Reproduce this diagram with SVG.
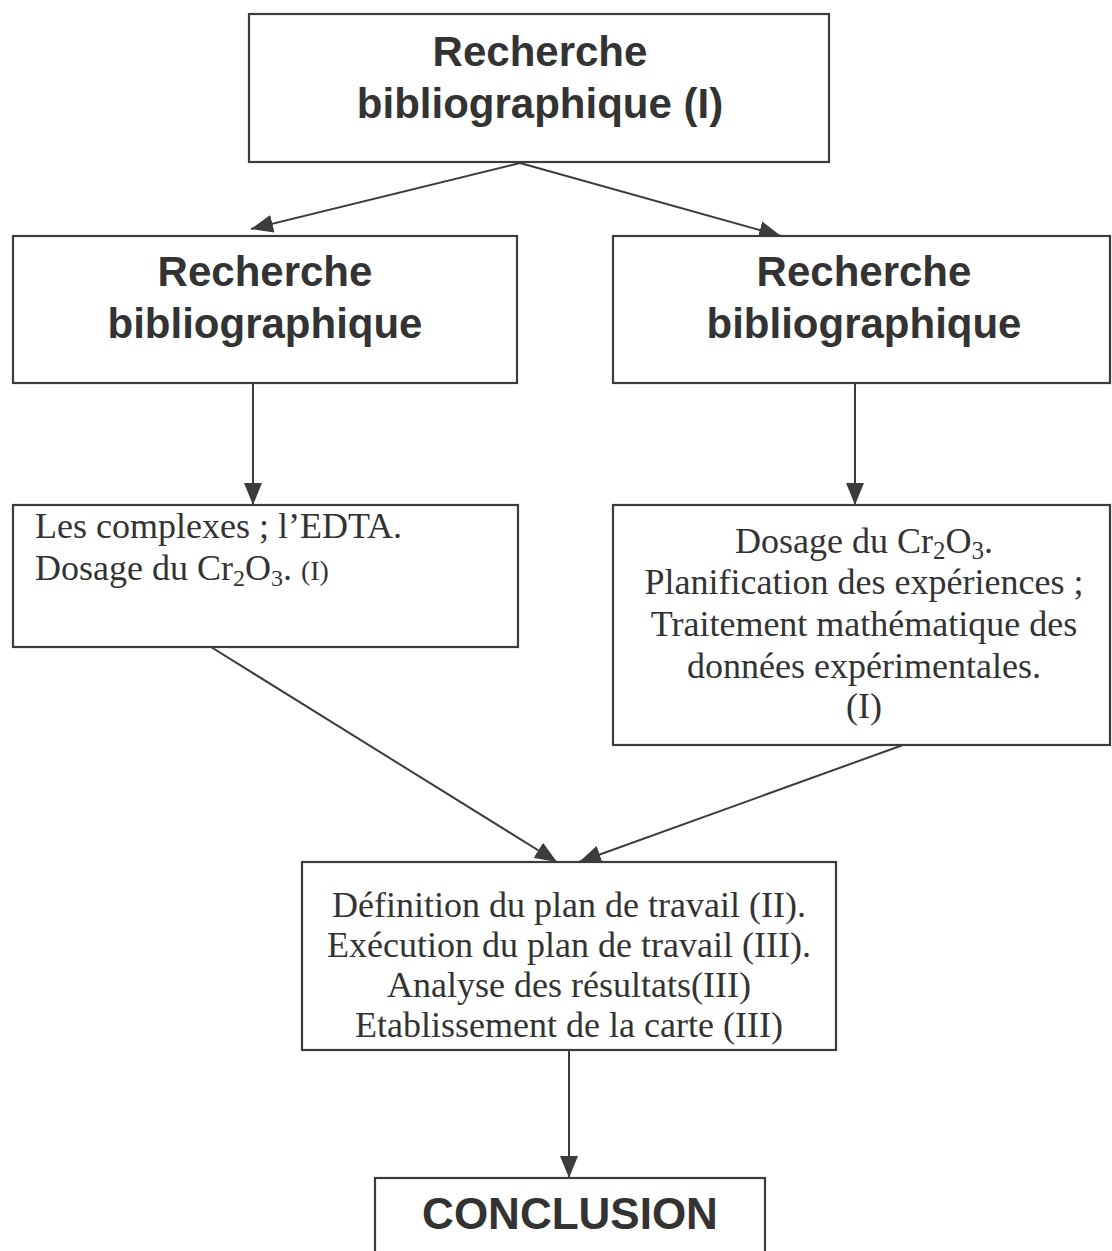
<svg xmlns="http://www.w3.org/2000/svg" width="1112" height="1251" viewBox="0 0 1112 1251">
<style>
.box{fill:#ffffff;stroke:#3c3c3c;stroke-width:2.2}
.h{font-family:"Liberation Sans",Arial,sans-serif;font-weight:bold;fill:#333333;text-anchor:middle}
.t{font-family:"Liberation Serif","Times New Roman",serif;fill:#333333;font-size:36px}
.c{text-anchor:middle}
.conn line{stroke:#3c3c3c;stroke-width:2}
</style>
<defs>
<marker id="ah" markerUnits="userSpaceOnUse" markerWidth="22" markerHeight="18" viewBox="0 0 22 18" refX="22" refY="9" orient="auto">
<path d="M0,0 L22,9 L0,18 z" fill="#3c3c3c"/>
</marker>
</defs>
<rect x="0" y="0" width="1112" height="1251" fill="#ffffff"/>
<g class="conn">
<line x1="520" y1="163" x2="251" y2="229" marker-end="url(#ah)"/>
<line x1="520" y1="163" x2="781" y2="236" marker-end="url(#ah)"/>
<line x1="253" y1="383" x2="253" y2="505" marker-end="url(#ah)"/>
<line x1="855" y1="383" x2="855" y2="505" marker-end="url(#ah)"/>
<line x1="211" y1="647" x2="557" y2="862" marker-end="url(#ah)"/>
<line x1="903" y1="745" x2="579" y2="862" marker-end="url(#ah)"/>
<line x1="569" y1="1050" x2="569" y2="1178" marker-end="url(#ah)"/>
</g>
<g id="n1">
<rect class="box" x="249" y="14" width="580" height="148"/>
<text class="h" x="540" y="66" font-size="42">Recherche</text>
<text class="h" x="540" y="118" font-size="42">bibliographique (I)</text>
</g>
<g id="n2">
<rect class="box" x="13" y="236" width="504" height="147"/>
<text class="h" x="265" y="286" font-size="42">Recherche</text>
<text class="h" x="265" y="338" font-size="42">bibliographique</text>
</g>
<g id="n3">
<rect class="box" x="613" y="236" width="497" height="147"/>
<text class="h" x="864" y="286" font-size="42">Recherche</text>
<text class="h" x="864" y="338" font-size="42">bibliographique</text>
</g>
<g id="n4">
<rect class="box" x="13" y="505" width="505" height="142"/>
<text class="t" x="35" y="538">Les complexes ; l’EDTA.</text>
<text class="t" x="35" y="580">Dosage du Cr<tspan font-size="24" dy="6">2</tspan><tspan dy="-6">O</tspan><tspan font-size="24" dy="6">3</tspan><tspan dy="-6">. </tspan><tspan font-size="28">(I)</tspan></text>
</g>
<g id="n5">
<rect class="box" x="613" y="505" width="497" height="240"/>
<text class="t c" x="864" y="553" font-size="37">Dosage du Cr<tspan font-size="25" dy="6">2</tspan><tspan dy="-6">O</tspan><tspan font-size="25" dy="6">3</tspan><tspan dy="-6">.</tspan></text>
<text class="t c" x="864" y="594" font-size="37">Planification des expériences ;</text>
<text class="t c" x="864" y="636" font-size="37">Traitement mathématique des</text>
<text class="t c" x="864" y="678" font-size="37">données expérimentales.</text>
<text class="t c" x="864" y="718" font-size="32">(I)</text>
</g>
<g id="n6">
<rect class="box" x="302" y="862" width="534" height="188"/>
<text class="t c" x="569" y="917">Définition du plan de travail (II).</text>
<text class="t c" x="569" y="957">Exécution du plan de travail (III).</text>
<text class="t c" x="569" y="997">Analyse des résultats(III)</text>
<text class="t c" x="569" y="1037">Etablissement de la carte (III)</text>
</g>
<g id="n7">
<rect class="box" x="375" y="1178" width="390" height="90"/>
<text class="h" x="570" y="1229" font-size="44">CONCLUSION</text>
</g>
</svg>
